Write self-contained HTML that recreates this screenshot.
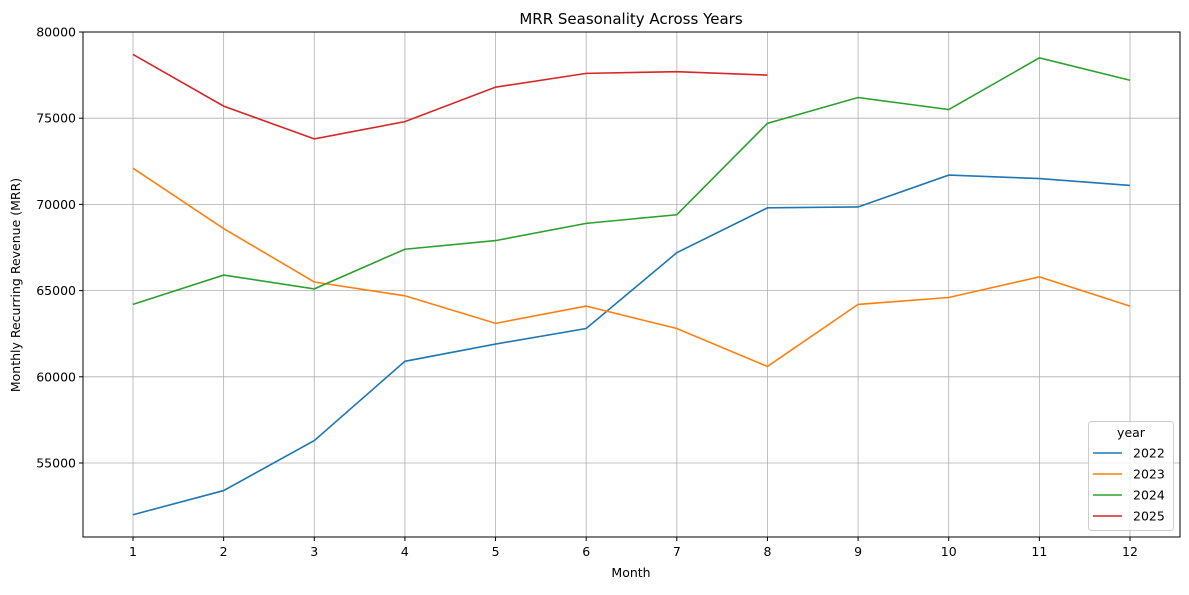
<!DOCTYPE html>
<html><head><meta charset="utf-8"><style>
body{margin:0;background:#fff;}
svg{font-family:"DejaVu Sans","Liberation Sans",sans-serif;}
</style></head><body>
<svg id="chart" width="1189" height="590" xmlns="http://www.w3.org/2000/svg">
<rect width="1189" height="590" fill="#fff"/>
<g id="grid"></g>
<g id="series"></g>
<rect x="83" y="32" width="1097" height="505" fill="none" stroke="#000" stroke-width="1"/>
<g id="axes" font-size="12.5" fill="#000"></g>
<text x="631" y="24" text-anchor="middle" font-size="15">MRR Seasonality Across Years</text>
<text x="631" y="577" text-anchor="middle" font-size="12.5">Month</text>
<text transform="translate(20,285) rotate(-90)" text-anchor="middle" font-size="12.5">Monthly Recurring Revenue (MRR)</text>
<g id="legend"></g>
</svg>
<script>
const months=[1,2,3,4,5,6,7,8,9,10,11,12];
const yTicks=[55000,60000,65000,70000,75000,80000];
const years=["2022","2023","2024","2025"];
const colors=["#1f77b4","#ff7f0e","#2ca02c","#d62728"];
const s2022=[52000,53400,56300,60900,61900,62800,67200,69800,69850,71700,71500,71100];
const s2023=[72100,68600,65500,64700,63100,64100,62800,60600,64200,64600,65800,64100];
const s2024=[64200,65900,65100,67400,67900,68900,69400,74700,76200,75500,78500,77200];
const s2025=[78700,75700,73800,74800,76800,77600,77700,77500];
const series=[s2022,s2023,s2024,s2025];
const NS="http://www.w3.org/2000/svg";
const X=m=>133+(m-1)*(1130-133)/11;
const Y=v=>32+(80000-v)*(463-32)/25000;
function mk(t,a,p){const e=document.createElementNS(NS,t);for(const k in a)e.setAttribute(k,a[k]);p.appendChild(e);return e;}
const grid=document.getElementById('grid'),axes=document.getElementById('axes'),ser=document.getElementById('series'),leg=document.getElementById('legend');
months.forEach(m=>{
  const l=mk('line',{x1:X(m),x2:X(m),y1:32,y2:537,stroke:'#b0b0b0','stroke-width':0.8},grid);
  
  const t=mk('line',{x1:X(m),x2:X(m),y1:537,y2:541,stroke:'#000'},axes);
  
  const tx=mk('text',{x:X(m),y:556,'text-anchor':'middle'},axes);tx.textContent=m;
  
});
yTicks.forEach(v=>{
  const l=mk('line',{x1:83,x2:1180,y1:Y(v),y2:Y(v),stroke:'#b0b0b0','stroke-width':0.8},grid);
  
  const t=mk('line',{x1:79,x2:83,y1:Y(v),y2:Y(v),stroke:'#000'},axes);
  
  const tx=mk('text',{x:76,y:Y(v)+4.5,'text-anchor':'end'},axes);tx.textContent=v;
  
});
series.forEach((s,i)=>{
  const p=mk('polyline',{points:s.map((v,j)=>X(months[j])+','+Y(v)).join(' '),fill:'none',stroke:colors[i],'stroke-width':1.6},ser);
  
});
const box=mk('rect',{x:1088.5,y:421.5,width:85,height:109,rx:3,fill:'#fff','fill-opacity':0.8,stroke:'#ccc'},leg);

const lt=mk('text',{x:1131,y:437,'text-anchor':'middle','font-size':12.5},leg);lt.textContent='year';

years.forEach((y,i)=>{
  const yy=453+i*21;
  const g=mk('g',{},leg);
  
  mk('line',{x1:1093,x2:1122,y1:yy,y2:yy,stroke:colors[i],'stroke-width':1.6},g);
  const t=mk('text',{x:1133,y:yy+4.5,'font-size':12.5},g);t.textContent=y;
});
</script>
</body></html>
